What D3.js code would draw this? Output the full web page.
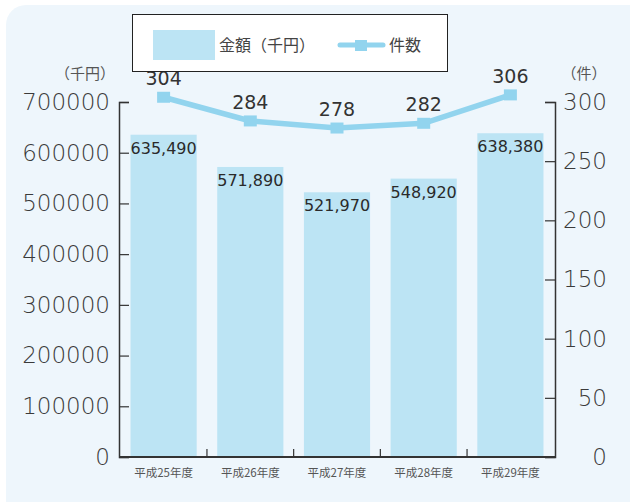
<!DOCTYPE html>
<html>
<head>
<meta charset="utf-8">
<script src="https://cdn.jsdelivr.net/npm/d3@7"></script>
<style>
  body { margin: 0; background: #fff; }
  svg { display: block; }
</style>
</head>
<body>
<div id="chart"></div>
<script>
// data
const years = ['平成25年度', '平成26年度', '平成27年度', '平成28年度', '平成29年度'];
const amounts = [635490, 571890, 521970, 548920, 638380];
const counts = [304, 284, 278, 282, 306];
const amountTicks = [0, 100000, 200000, 300000, 400000, 500000, 600000, 700000];
const countTicks = [0, 50, 100, 150, 200, 250, 300];

const W = 630, H = 502;
const plot = { left: 119, right: 555, top: 102, bottom: 457 };

const barColor = '#bce4f4';
const lineColor = '#92d4ee';
const axisColor = '#333';
const numFont = '"DejaVu Sans", sans-serif';
const jpFont = '"Noto Sans CJK JP", sans-serif';

const svg = d3.select('#chart').append('svg')
  .attr('width', W)
  .attr('height', H);

// panel background
svg.append('rect')
  .attr('x', 6).attr('y', 5)
  .attr('width', W + 30).attr('height', H + 30)
  .attr('rx', 20)
  .attr('fill', '#eef6fc');

// scales
const x = d3.scaleBand()
  .domain(years)
  .range([plot.left, plot.right])
  .paddingInner(0.237)
  .paddingOuter(0.133);
const yL = d3.scaleLinear().domain([0, 700000]).range([plot.bottom, plot.top]);
const yR = d3.scaleLinear().domain([0, 300]).range([plot.bottom, plot.top]);

// bars
svg.append('g').selectAll('rect')
  .data(amounts)
  .join('rect')
  .attr('x', (d, i) => x(years[i]))
  .attr('width', x.bandwidth())
  .attr('y', d => yL(d))
  .attr('height', d => plot.bottom - yL(d))
  .attr('fill', barColor);

// left axis
const axL = svg.append('g')
  .attr('transform', `translate(${plot.left},0)`)
  .call(d3.axisLeft(yL).tickValues(amountTicks).tickSize(-10).tickPadding(9).tickFormat(d3.format('d')));
axL.select('.domain').attr('stroke', axisColor).attr('stroke-width', 1.5);
axL.selectAll('.tick line').attr('stroke', axisColor).attr('stroke-width', 1.2);
axL.selectAll('.tick text')
  .attr('fill', '#3a3a3a')
  .attr('font-family', numFont)
  .attr('font-weight', 200)
  .attr('font-size', 23);

// right axis
const axR = svg.append('g')
  .attr('transform', `translate(${plot.right},0)`)
  .call(d3.axisRight(yR).tickValues(countTicks).tickSize(-10).tickPadding(6));
axR.select('.domain').attr('stroke', axisColor).attr('stroke-width', 1.5);
axR.selectAll('.tick line').attr('stroke', axisColor).attr('stroke-width', 1.2);
axR.selectAll('.tick text')
  .attr('x', 52)
  .attr('text-anchor', 'end')
  .attr('fill', '#3a3a3a')
  .attr('font-family', numFont)
  .attr('font-weight', 200)
  .attr('font-size', 23);

// bottom axis
svg.append('line')
  .attr('x1', plot.left).attr('x2', plot.right)
  .attr('y1', plot.bottom).attr('y2', plot.bottom)
  .attr('stroke', axisColor).attr('stroke-width', 1.8);

const gap = x.step() * x.paddingInner();
svg.append('g').selectAll('line')
  .data(years.slice(0, -1))
  .join('line')
  .attr('x1', d => x(d) + x.bandwidth() + gap / 2)
  .attr('x2', d => x(d) + x.bandwidth() + gap / 2)
  .attr('y1', plot.bottom).attr('y2', plot.bottom - 8)
  .attr('stroke', axisColor).attr('stroke-width', 1.2);

svg.append('g').selectAll('text')
  .data(years)
  .join('text')
  .attr('x', d => x(d) + x.bandwidth() / 2)
  .attr('y', 477)
  .attr('text-anchor', 'middle')
  .attr('font-family', jpFont)
  .attr('font-size', 11.5)
  .attr('fill', '#555')
  .text(d => d);

// bar value labels
svg.append('g').selectAll('text')
  .data(amounts)
  .join('text')
  .attr('x', (d, i) => x(years[i]) + x.bandwidth() / 2)
  .attr('y', d => yL(d) + 19)
  .attr('text-anchor', 'middle')
  .attr('font-family', numFont)
  .attr('font-size', 16)
  .attr('fill', '#2a2a2a')
  .text(d => d3.format(',')(d));

// count line
const cx = i => x(years[i]) + x.bandwidth() / 2;
const line = d3.line()
  .x((d, i) => cx(i))
  .y(d => yR(d));

svg.append('path')
  .datum(counts)
  .attr('d', line)
  .attr('fill', 'none')
  .attr('stroke', lineColor)
  .attr('stroke-width', 5.5);

svg.append('g').selectAll('rect')
  .data(counts)
  .join('rect')
  .attr('x', (d, i) => cx(i) - 6.5)
  .attr('y', d => yR(d) - 5.5)
  .attr('width', 13)
  .attr('height', 11)
  .attr('fill', lineColor);

svg.append('g').selectAll('text')
  .data(counts)
  .join('text')
  .attr('x', (d, i) => cx(i))
  .attr('y', d => yR(d) - 12)
  .attr('text-anchor', 'middle')
  .attr('font-family', numFont)
  .attr('font-size', 19)
  .attr('fill', '#333')
  .text(d => d);

// unit labels
svg.append('text')
  .attr('x', 115).attr('y', 79)
  .attr('text-anchor', 'end')
  .attr('font-family', jpFont)
  .attr('font-size', 15)
  .attr('fill', '#555')
  .text('（千円）');

svg.append('text')
  .attr('x', 584).attr('y', 79)
  .attr('text-anchor', 'middle')
  .attr('font-family', jpFont)
  .attr('font-size', 15)
  .attr('fill', '#555')
  .text('（件）');

// legend
const lg = svg.append('g');
lg.append('rect')
  .attr('x', 132.5).attr('y', 14.5)
  .attr('width', 315).attr('height', 57)
  .attr('fill', '#fff')
  .attr('stroke', '#222')
  .attr('stroke-width', 1);
lg.append('rect')
  .attr('x', 153).attr('y', 30)
  .attr('width', 62).attr('height', 30)
  .attr('fill', barColor);
lg.append('text')
  .attr('x', 219).attr('y', 51)
  .attr('font-family', jpFont)
  .attr('font-size', 16)
  .attr('fill', '#444')
  .text('金額（千円）');
lg.append('line')
  .attr('x1', 340).attr('x2', 383)
  .attr('y1', 45).attr('y2', 45)
  .attr('stroke', lineColor)
  .attr('stroke-width', 5)
  .attr('stroke-linecap', 'round');
lg.append('rect')
  .attr('x', 355).attr('y', 40)
  .attr('width', 12).attr('height', 11)
  .attr('fill', lineColor);
lg.append('text')
  .attr('x', 389).attr('y', 51)
  .attr('font-family', jpFont)
  .attr('font-size', 16)
  .attr('fill', '#444')
  .text('件数');
</script>
</body>
</html>
